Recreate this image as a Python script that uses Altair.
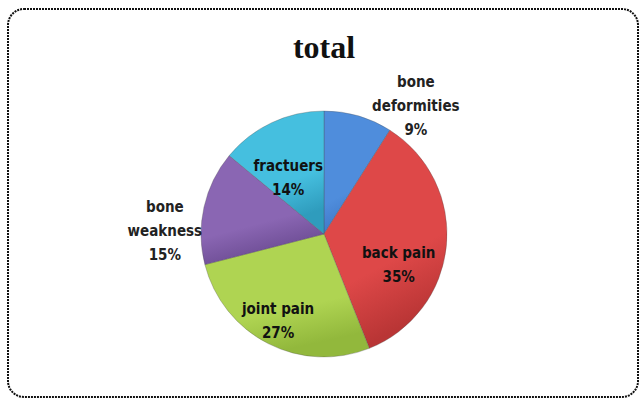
import altair as alt
import pandas as pd

categories = ["bone deformities", "back pain", "joint pain", "bone weakness", "fractuers"]
values = [9, 35, 27, 15, 14]
labels = ["bone\ndeformities\n9%", "back pain\n35%", "joint pain\n27%", "bone\nweakness\n15%", "fractuers\n14%"]
colors_top = ["#4f8ddc", "#de4848", "#afd452", "#8a66b3", "#45bfdf"]
colors_bottom = ["#3b73c2", "#b93535", "#92b83c", "#6c4c93", "#2f9cbd"]

df = pd.DataFrame({
    "category": categories,
    "value": values,
    "label": labels,
    "order": list(range(len(categories))),
})

CX, CY = 324, 234
label_font = "Liberation Sans Narrow, DejaVu Sans Condensed, Arial Narrow, sans-serif"
theta_scale = alt.Scale(domain=[0, 100])


def stacked():
    return alt.Chart(df).transform_window(
        cum="sum(value)", sort=[alt.SortField("order")], frame=[None, 0]
    ).transform_calculate(
        start="datum.cum - datum.value", mid="datum.cum - datum.value / 2"
    )


slice_layers = []
for cat, top, bot in zip(categories, colors_top, colors_bottom):
    grad = alt.Gradient(
        gradient="linear", x1=0, y1=0, x2=0.3, y2=1,
        stops=[alt.GradientStop(offset=0, color=top), alt.GradientStop(offset=0.7, color=top),
               alt.GradientStop(offset=1, color=bot)],
    )
    s = stacked().transform_filter(alt.datum.category == cat).mark_arc(
        radius=123, fill=grad, stroke="#4a4a4a", strokeWidth=0.6, strokeOpacity=0.5,
    ).encode(
        theta=alt.Theta("start:Q", stack=None, scale=theta_scale),
        theta2="cum:Q",
        x=alt.value(CX),
        y=alt.value(CY),
    )
    slice_layers.append(s)

# label style per slice: (radius, dx, dy, color)
label_style = {
    "bone deformities": (150, 50, -8, "#222222"),
    "back pain": (77, -2, 12, "#111111"),
    "joint pain": (77, -11, 6, "#111111"),
    "bone weakness": (160, -3, 8, "#222222"),
    "fractuers": (77, -3, 2, "#111111"),
}

text_layers = []
for cat in categories:
    r, dx, dy, col = label_style[cat]
    t = stacked().transform_filter(
        alt.datum.category == cat
    ).mark_text(
        radius=r, dx=dx, dy=dy, lineBreak="\n", lineHeight=24, font=label_font, fontSize=15,
        fontWeight="bold", color=col, align="center", baseline="middle",
    ).encode(
        theta=alt.Theta("mid:Q", stack=None, scale=theta_scale),
        text="label:N",
        x=alt.value(CX),
        y=alt.value(CY),
    )
    text_layers.append(t)

title = alt.Chart(pd.DataFrame({"t": ["total"]})).mark_text(
    font="Liberation Serif, DejaVu Serif, serif", fontSize=32, fontWeight="bold",
    color="#111111", align="center", baseline="alphabetic",
).encode(text="t:N", x=alt.value(CX), y=alt.value(58))

border = alt.Chart(pd.DataFrame({"a": [0]})).mark_rect(
    fill="white", fillOpacity=0, stroke="#111111", strokeWidth=2, strokeDash=[2, 1], cornerRadius=16,
).encode(x=alt.value(8), x2=alt.value(638), y=alt.value(9), y2=alt.value(397))

chart = alt.layer(border, *slice_layers, *text_layers, title).properties(
    width=640, height=398, padding=0, autosize=alt.AutoSizeParams(type="none"),
    background="white",
).configure_view(stroke=None)

chart.save("out.html", embed_options={"renderer": "svg", "actions": False})
